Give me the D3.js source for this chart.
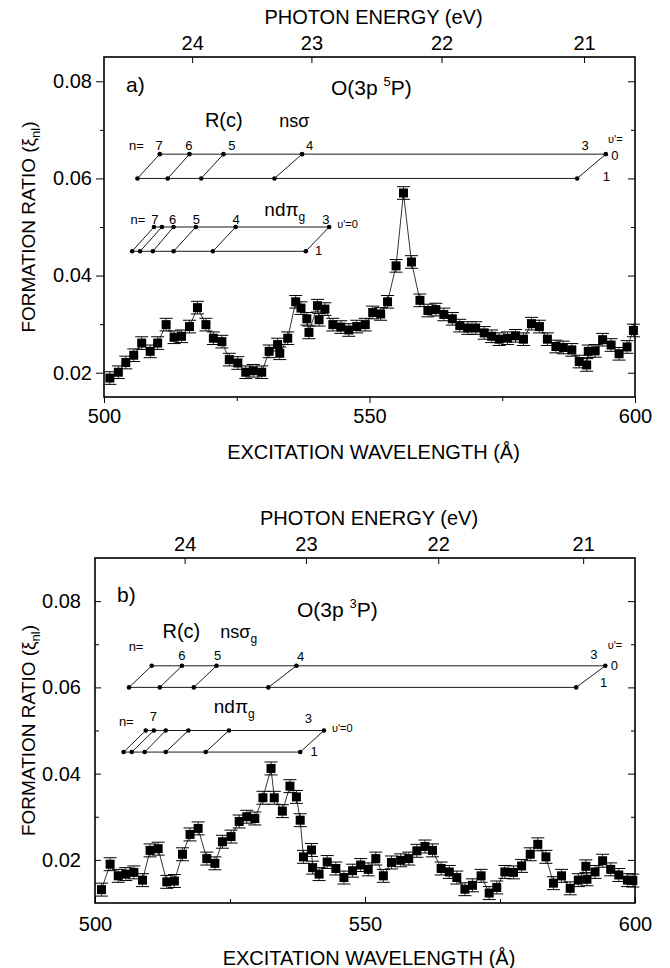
<!DOCTYPE html>
<html>
<head>
<meta charset="utf-8">
<script src="https://cdn.jsdelivr.net/npm/d3@7"></script>
<style>
  body { margin: 0; background: #fff; }
  svg text { font-family: "Liberation Sans", Arial, Helvetica, sans-serif; fill: #000; }
  .axis path, .axis line { stroke: #000; }
</style>
</head>
<body>
<div id="chart"></div>
<script>
// hc in eV*Angstrom, used for the top photon energy axis
const HC = 12398.4

const energyTicks = [24, 23, 22, 21]
const waveTicks = [500, 550, 600]
const waveMinor = [525, 575]
const ratioTicks = [0.02, 0.04, 0.06, 0.08]
const ratioMinor = [0.01, 0.03, 0.05, 0.07, 0.09]

// panel a) O(3p 5P)
const waveA = [501.1, 502.7, 504.1, 505.6, 507.1, 508.7, 510.1, 511.7, 513.2, 514.6,
  516.1, 517.6, 519.2, 520.6, 522.2, 523.6, 525.2, 526.7, 528.1, 529.7,
  531.1, 532.7, 533.1, 534.6, 536.1, 537.1, 538.2, 538.6, 540.2, 540.5,
  541.6, 543.1, 544.6, 546.1, 547.6, 549.2, 550.6, 552.1, 553.4, 555.0,
  556.4, 557.9, 559.5, 561.0, 562.5, 564.0, 565.6, 567.0, 568.5, 570.0,
  571.6, 573.0, 574.4, 576.0, 577.5, 579.0, 580.5, 582.0, 583.5, 585.1,
  586.5, 588.1, 589.5, 590.9, 591.2, 592.5, 593.9, 595.5, 597.0, 598.5, 599.7]
const ratioA = [0.0189, 0.0201, 0.0221, 0.0236, 0.0261, 0.0244, 0.0261, 0.0299, 0.0273, 0.0275,
  0.0295, 0.0334, 0.0299, 0.0271, 0.0264, 0.0227, 0.0220, 0.0201, 0.0204, 0.0201,
  0.0244, 0.0258, 0.0240, 0.0271, 0.0346, 0.0333, 0.0311, 0.0283, 0.0338, 0.0309,
  0.0331, 0.0299, 0.0294, 0.0288, 0.0295, 0.0299, 0.0324, 0.0321, 0.0346, 0.0420,
  0.0570, 0.0428, 0.0349, 0.0328, 0.0330, 0.0320, 0.0311, 0.0297, 0.0292, 0.0292,
  0.0282, 0.0275, 0.0269, 0.0271, 0.0276, 0.0269, 0.0301, 0.0295, 0.0269, 0.0254,
  0.0252, 0.0247, 0.0223, 0.0216, 0.0244, 0.0245, 0.0268, 0.0257, 0.0239, 0.0253, 0.0287]
const errorA = 0.0013

// panel b) O(3p 3P)
const waveB = [501.2, 502.8, 504.3, 505.7, 507.2, 508.8, 510.2, 511.7, 513.3, 514.7,
  516.2, 517.6, 519.1, 520.7, 522.2, 523.6, 525.2, 526.7, 528.1, 529.6,
  531.1, 532.6, 533.2, 534.7, 536.1, 537.3, 538.0, 538.6, 540.1, 540.3,
  541.5, 543.0, 544.6, 546.1, 547.7, 549.2, 550.6, 552.0, 553.4, 554.9,
  556.6, 558.1, 559.6, 561.1, 562.5, 564.1, 565.6, 567.0, 568.5, 569.9,
  571.5, 573.0, 574.4, 575.9, 577.5, 579.0, 580.6, 582.0, 583.5, 584.9,
  586.4, 588.0, 589.5, 590.9, 591.1, 592.6, 594.0, 595.5, 597.0, 598.6, 599.6]
const ratioB = [0.0131, 0.0190, 0.0163, 0.0167, 0.0171, 0.0153, 0.0222, 0.0226, 0.0149, 0.0151,
  0.0213, 0.0259, 0.0273, 0.0203, 0.0192, 0.0242, 0.0254, 0.0289, 0.0300, 0.0296,
  0.0344, 0.0412, 0.0344, 0.0313, 0.0371, 0.0346, 0.0292, 0.0207, 0.0223, 0.0182,
  0.0167, 0.0195, 0.0180, 0.0159, 0.0175, 0.0188, 0.0178, 0.0203, 0.0163, 0.0194,
  0.0199, 0.0203, 0.0221, 0.0231, 0.0222, 0.0180, 0.0172, 0.0159, 0.0132, 0.0141,
  0.0163, 0.0123, 0.0136, 0.0172, 0.0171, 0.0186, 0.0213, 0.0236, 0.0207, 0.0146,
  0.0163, 0.0134, 0.0153, 0.0185, 0.0155, 0.0172, 0.0198, 0.0178, 0.0165, 0.0153, 0.0152]
const errorB = 0.0015

// Rydberg ladders (wavelengths of v'=1 and v'=0 members, and the two row levels)
const nsSigmaV1 = [506.3, 512.0, 518.3, 532.1, 589.1]
const nsSigmaV0 = [510.5, 516.1, 522.5, 537.3, 594.5]
const nsRows = [0.060, 0.065]
const ndPiV1 = [505.3, 506.8, 509.2, 513.1, 520.5, 538.0]
const ndPiV0 = [509.4, 510.9, 513.1, 517.3, 524.8, 542.4]
const ndRows = [0.045, 0.050]

// ladder labels: [text, wavelength, ratio]
const labelsA = [
  ["n=", 506.1, 0.0668], ["7", 510.4, 0.0668], ["6", 516.0, 0.0668], ["5", 524.1, 0.0668],
  ["4", 538.7, 0.0668], ["3", 590.6, 0.0668], ["0", 596.2, 0.0647], ["1", 594.6, 0.0605],
  ["n=", 506.4, 0.0515], ["7", 509.6, 0.0515], ["6", 512.9, 0.0515], ["5", 517.4, 0.0515],
  ["4", 524.9, 0.0515], ["3", 541.8, 0.0515], ["1", 540.4, 0.0451]
]
const labelsB = [
  ["n=", 507.6, 0.0695], ["6", 516.1, 0.0675], ["5", 522.7, 0.0675], ["4", 538.1, 0.0672],
  ["3", 592.4, 0.0676], ["0", 596.2, 0.0650], ["1", 594.2, 0.0611],
  ["n=", 505.8, 0.0522], ["7", 510.8, 0.0533], ["3", 539.5, 0.0527], ["1", 540.6, 0.0452]
]

const W = 670, H = 968

const svg = d3.select("#chart").append("svg")
  .attr("width", W)
  .attr("height", H)

function drawPanel(p) {
  let g = svg.append("g")

  let x = d3.scaleLinear().domain([500, 600]).range([p.left, p.right])
  let y = d3.scaleLinear().domain(p.yDomain).range([p.bottom, p.top])

  let outL = p.outward ? 8 : -6
  let outB = p.outward ? 6 : -6

  // frame
  g.append("rect")
    .attr("x", p.left).attr("y", p.top)
    .attr("width", p.right - p.left).attr("height", p.bottom - p.top)
    .attr("fill", "none").attr("stroke", "#000").attr("stroke-width", 1.6)

  // bottom wavelength axis
  let xAxis = g.append("g").attr("class", "axis")
    .attr("transform", `translate(0,${p.bottom})`)
    .call(d3.axisBottom(x).tickValues(waveTicks).tickSize(outB).tickPadding(p.outward ? 6 : 14).tickFormat(d3.format("d")))
  xAxis.selectAll("text").attr("font-size", 20)
  g.append("g").attr("class", "axis")
    .attr("transform", `translate(0,${p.bottom})`)
    .call(d3.axisBottom(x).tickValues(waveMinor).tickSize(p.outward ? 4 : -4).tickFormat(""))

  // top energy axis
  let topAxis = g.append("g").attr("class", "axis")
    .attr("transform", `translate(0,${p.top})`)
    .call(d3.axisTop(x).tickValues(energyTicks.map(e => HC / e)).tickSize(-6).tickPadding(7)
      .tickFormat(d => Math.round(HC / d)))
  topAxis.selectAll("text").attr("font-size", 20)

  // left ratio axis
  let yAxis = g.append("g").attr("class", "axis")
    .attr("transform", `translate(${p.left},0)`)
    .call(d3.axisLeft(y).tickValues(ratioTicks).tickSize(outL).tickPadding(p.outward ? 4 : 14).tickFormat(d3.format(".2f")))
  yAxis.selectAll("text").attr("font-size", 20)
  g.append("g").attr("class", "axis")
    .attr("transform", `translate(${p.left},0)`)
    .call(d3.axisLeft(y).tickValues(ratioMinor.filter(v => v > p.yDomain[0] && v < p.yDomain[1]))
      .tickSize(p.outward ? 4 : -4).tickFormat(""))

  // right axis, inward ticks
  g.append("g").attr("class", "axis")
    .attr("transform", `translate(${p.right},0)`)
    .call(d3.axisRight(y).tickValues(ratioTicks).tickSize(-7).tickFormat(""))
  g.append("g").attr("class", "axis")
    .attr("transform", `translate(${p.right},0)`)
    .call(d3.axisRight(y).tickValues(ratioMinor.filter(v => v > p.yDomain[0] && v < p.yDomain[1]))
      .tickSize(-4).tickFormat(""))

  g.selectAll(".axis path.domain").remove()

  // axis titles
  g.append("text")
    .attr("x", (p.left + p.right) / 2 + 4)
    .attr("y", p.top - 33)
    .attr("text-anchor", "middle")
    .attr("font-size", 20)
    .text("PHOTON ENERGY (eV)")

  g.append("text")
    .attr("x", (p.left + p.right) / 2 + 4)
    .attr("y", p.bottom + 62)
    .attr("text-anchor", "middle")
    .attr("font-size", 20)
    .text("EXCITATION WAVELENGTH (Å)")

  let yl = g.append("text")
    .attr("transform", `translate(35,${(p.top + p.bottom) / 2}) rotate(-90)`)
    .attr("text-anchor", "middle")
    .attr("font-size", 19)
  yl.append("tspan").text("FORMATION RATIO (ξ")
  yl.append("tspan").attr("font-size", 13).attr("dy", 5).text("nl")
  yl.append("tspan").attr("dy", -5).text(")")

  // panel letter and state label
  g.append("text").attr("x", p.left + 22).attr("y", p.letterY).attr("font-size", 21).text(p.letter)
  let st = g.append("text").attr("x", p.stateX).attr("y", p.stateY).attr("font-size", 21)
  st.append("tspan").text("O(3p ")
  st.append("tspan").attr("font-size", 13).attr("dy", -9).text(p.mult)
  st.append("tspan").attr("dy", 9).text("P)")

  // data: connecting line, error bars, squares
  let pts = p.wave.map((w, i) => ({ w: w, r: p.ratio[i] }))

  g.append("path")
    .datum(pts)
    .attr("fill", "none")
    .attr("stroke", "#000")
    .attr("stroke-width", 0.8)
    .attr("d", d3.line().x(d => x(d.w)).y(d => y(d.r)))

  let eb = g.append("g").selectAll("g").data(pts).join("g")
  eb.append("line")
    .attr("x1", d => x(d.w)).attr("x2", d => x(d.w))
    .attr("y1", d => y(d.r - p.err)).attr("y2", d => y(d.r + p.err))
    .attr("stroke", "#000").attr("stroke-width", 0.8)
  ;[-1, 1].forEach(s => {
    eb.append("line")
      .attr("x1", d => x(d.w) - 6.5).attr("x2", d => x(d.w) + 6.5)
      .attr("y1", d => y(d.r + s * p.err)).attr("y2", d => y(d.r + s * p.err))
      .attr("stroke", "#000").attr("stroke-width", 1)
  })

  g.append("g").selectAll("rect").data(pts).join("rect")
    .attr("x", d => x(d.w) - 4.5)
    .attr("y", d => y(d.r) - 4.5)
    .attr("width", 9).attr("height", 9)
    .attr("fill", "#000")

  // Rydberg ladders
  drawLadder(g, x, y, nsSigmaV1, nsSigmaV0, nsRows)
  drawLadder(g, x, y, ndPiV1, ndPiV0, ndRows)

  g.append("g").selectAll("text").data(p.labels).join("text")
    .attr("x", d => x(d[1]))
    .attr("y", d => y(d[2]))
    .attr("text-anchor", "middle")
    .attr("dominant-baseline", "central")
    .attr("font-size", 13)
    .text(d => d[0])

  // v' labels
  g.append("text").attr("x", x(596.3)).attr("y", y(p.vLabelY)).attr("text-anchor", "middle")
    .attr("font-size", 11).text("υ'=")
  g.append("text").attr("x", x(ndPiV0[5]) + 8).attr("y", y(ndRows[1]) + 1).attr("font-size", 11).text("υ'=0")

  // series names
  g.append("text").attr("x", x(p.rcW)).attr("y", y(p.rcR)).attr("font-size", 20).text("R(c)")
  let ns = g.append("text").attr("x", x(p.nsW)).attr("y", y(p.rcR)).attr("font-size", 18)
  ns.append("tspan").text("nsσ")
  if (p.gerade) ns.append("tspan").attr("font-size", 12).attr("dy", 5).text("g")
  let nd = g.append("text").attr("x", x(p.ndW)).attr("y", y(p.ndR)).attr("font-size", 19)
  nd.append("tspan").text("ndπ")
  nd.append("tspan").attr("font-size", 12).attr("dy", 5).text("g")
}

function drawLadder(g, x, y, v1, v0, rows) {
  let lad = g.append("g").attr("stroke", "#000").attr("stroke-width", 0.9)
  lad.append("line")
    .attr("x1", x(v1[0])).attr("x2", x(v1[v1.length - 1]))
    .attr("y1", y(rows[0])).attr("y2", y(rows[0]))
  lad.append("line")
    .attr("x1", x(v0[0])).attr("x2", x(v0[v0.length - 1]))
    .attr("y1", y(rows[1])).attr("y2", y(rows[1]))
  lad.selectAll("line.rung").data(v1).join("line")
    .attr("class", "rung")
    .attr("x1", d => x(d)).attr("y1", y(rows[0]))
    .attr("x2", (d, i) => x(v0[i])).attr("y2", y(rows[1]))
  let dots = v1.map(w => [w, rows[0]]).concat(v0.map(w => [w, rows[1]]))
  g.append("g").selectAll("circle").data(dots).join("circle")
    .attr("cx", d => x(d[0])).attr("cy", d => y(d[1]))
    .attr("r", 2.3).attr("fill", "#000")
}

drawPanel({
  left: 104, right: 635, top: 57, bottom: 397,
  yDomain: [0.015, 0.085], outward: true,
  wave: waveA, ratio: ratioA, err: errorA,
  letter: "a)", letterY: 92, stateX: 331, stateY: 95, mult: "5",
  labels: labelsA, vLabelY: 0.0672,
  rcW: 519.0, nsW: 533.0, rcR: 0.0705, ndW: 530.2, ndR: 0.0522, gerade: false
})

drawPanel({
  left: 95, right: 635, top: 558, bottom: 903,
  yDomain: [0.01, 0.09], outward: false,
  wave: waveB, ratio: ratioB, err: errorB,
  letter: "b)", letterY: 602, stateX: 297, stateY: 617, mult: "3",
  labels: labelsB, vLabelY: 0.0688,
  rcW: 512.5, nsW: 523.2, rcR: 0.0715, ndW: 522.0, ndR: 0.0540, gerade: true
})
</script>
</body>
</html>
